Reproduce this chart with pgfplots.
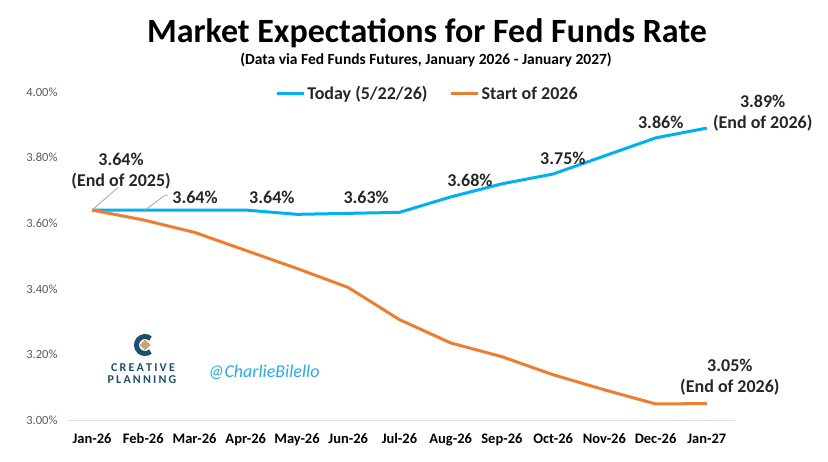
\documentclass[border=0pt]{standalone}
\usepackage{pgfplots}
\pgfplotsset{compat=1.18}
\usepackage{fontspec}
\setmainfont{Carlito}

\definecolor{todayblue}{HTML}{00B0F0}
\definecolor{startorange}{HTML}{ED7D31}
\definecolor{labeltext}{HTML}{262626}
\definecolor{ticktext}{HTML}{595959}
\definecolor{cpnavy}{HTML}{1F4E6B}
\definecolor{cptan}{HTML}{C6A77B}
\definecolor{handle}{HTML}{29ABE2}

% Fed funds futures implied rate, Jan-26 (0) to Jan-27 (12)
\pgfplotstableread{
x today start
0  3.64  3.64
1  3.64  3.610
2  3.64  3.572
3  3.64  3.517
4  3.627 3.462
5  3.63  3.404
6  3.633 3.306
7  3.68  3.235
8  3.72  3.193
9  3.75  3.138
10 3.805 3.092
11 3.86  3.049
12 3.89  3.05
}\ratetable

\begin{document}
\begin{tikzpicture}[x=1pt,y=1pt]
\useasboundingbox (0,0) rectangle (828,461);

% title block
\node[font=\fontsize{34}{38}\selectfont\bfseries, text=black] at (427,428) {Market Expectations for Fed Funds Rate};
\node[font=\fontsize{15.5}{18}\selectfont\bfseries, text=black] at (426,401) {(Data via Fed Funds Futures, January 2026 - January 2027)};

\begin{axis}[
  at={(68pt,41pt)}, anchor=south west,
  scale only axis, width=667pt, height=328pt,
  xmin=-0.47, xmax=12.55, ymin=3.0, ymax=4.0,
  xtick={0,...,12},
  xticklabels={Jan-26,Feb-26,Mar-26,Apr-26,May-26,Jun-26,Jul-26,Aug-26,Sep-26,Oct-26,Nov-26,Dec-26,Jan-27},
  ytick={3.0,3.2,3.4,3.6,3.8,4.0},
  yticklabel={\pgfmathprintnumber[fixed,fixed zerofill,precision=2]{\tick}\%},
  /pgf/number format/assume math mode=true,
  axis x line*=bottom, axis y line*=left,
  x axis line style={draw=gray!25, line width=1pt},
  y axis line style={draw=none},
  major tick length=0pt,
  xticklabel style={font=\fontsize{14.5}{16}\selectfont\bfseries, text=black, yshift=-10pt},
  yticklabel style={font=\fontsize{12.5}{14}\selectfont, text=ticktext, xshift=-7pt},
  legend columns=2,
  legend style={at={(0.539,0.994)}, anchor=center, draw=none, fill=none,
    font=\fontsize{18}{20}\selectfont\bfseries, text=labeltext,
    /tikz/every even column/.append style={column sep=20pt}},
  legend image code/.code={\draw[#1, line width=3pt] (0pt,0pt) -- (27pt,0pt);},
  clip=false,
]
\addplot[todayblue, line width=3pt, no markers] table[x=x, y=today] {\ratetable};
\addlegendentry{Today (5/22/26)}
\addplot[startorange, line width=3pt, no markers] table[x=x, y=start] {\ratetable};
\addlegendentry{Start of 2026}

% leader lines
\draw[gray!70, line width=0.8pt] (axis cs:0,3.64) -- (axis cs:0.507,3.709);
\draw[gray!70, line width=0.8pt] (axis cs:1.03,3.64) -- (axis cs:1.424,3.685) -- (axis cs:1.48,3.685);

% data labels
\begin{scope}[every node/.style={font=\fontsize{18}{21}\selectfont\bfseries, text=labeltext, align=center}]
\node at (axis cs:0.566,3.760) {3.64\%\\(End of 2025)};
\node at (axis cs:2.01,3.679) {3.64\%};
\node at (axis cs:3.51,3.679) {3.64\%};
\node at (axis cs:5.35,3.679) {3.63\%};
\node at (axis cs:7.376,3.731) {3.68\%};
\node at (axis cs:9.19,3.798) {3.75\%};
\node at (axis cs:11.1,3.908) {3.86\%};
\node at (axis cs:13.09,3.937) {3.89\%\\(End of 2026)};
\node at (axis cs:12.45,3.130) {3.05\%\\(End of 2026)};
\end{scope}
\end{axis}

% Creative Planning mark
\draw[cpnavy, line width=5pt] (145,116) ++(50:8.5) arc[start angle=50, end angle=310, radius=8.5];
\fill[cptan] (145,116) ++(5.5,0) -- ++(-5.5,5.5) -- ++(-5.5,-5.5) -- ++(5.5,-5.5) -- cycle;
\node[font=\fontsize{12}{13}\selectfont\bfseries, text=cpnavy] at (143,93) {C\hspace{2.2pt}R\hspace{2.2pt}E\hspace{2.2pt}A\hspace{2.2pt}T\hspace{2.2pt}I\hspace{2.2pt}V\hspace{2.2pt}E};
\node[font=\fontsize{12}{13}\selectfont\bfseries, text=cpnavy] at (142,81) {P\hspace{2.2pt}L\hspace{2.2pt}A\hspace{2.2pt}N\hspace{2.2pt}N\hspace{2.2pt}I\hspace{2.2pt}N\hspace{2.2pt}G};
\node[font=\fontsize{18}{20}\selectfont\itshape, text=handle] at (264,89) {@CharlieBilello};
\end{tikzpicture}
\end{document}
